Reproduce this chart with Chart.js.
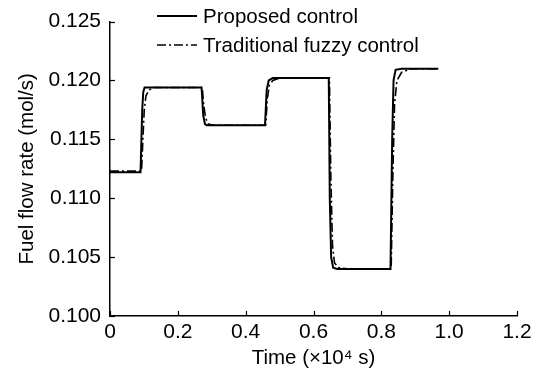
<!DOCTYPE html>
<html>
<head>
<meta charset="utf-8">
<script src="https://cdn.jsdelivr.net/npm/chart.js@4/dist/chart.umd.min.js"></script>
<style>
  html, body { margin: 0; padding: 0; background: #fff; }
  #wrap { width: 540px; height: 371px; position: relative; }
</style>
</head>
<body>
<div id="wrap"><canvas id="flowChart"></canvas></div>
<script>
// Time in units of 10^4 s, flow in mol/s
const timeProposed = [0, 0.09, 0.095, 0.098, 0.102, 0.27, 0.275, 0.28, 0.285, 0.457, 0.462, 0.468, 0.48, 0.645, 0.648, 0.652, 0.658, 0.67, 0.827, 0.832, 0.836, 0.842, 0.86, 0.968];
const flowProposed = [0.1122, 0.1122, 0.1175, 0.1190, 0.1194, 0.1194, 0.1170, 0.1163, 0.1162, 0.1162, 0.1192, 0.1200, 0.1202, 0.1202, 0.1100, 0.1050, 0.1041, 0.1040, 0.1040, 0.1150, 0.1200, 0.1209, 0.1210, 0.1210];

const timeFuzzy = [0, 0.093, 0.097, 0.101, 0.106, 0.115, 0.13, 0.272, 0.276, 0.282, 0.29, 0.305, 0.459, 0.464, 0.47, 0.48, 0.50, 0.647, 0.651, 0.656, 0.662, 0.675, 0.70, 0.829, 0.834, 0.839, 0.846, 0.86, 0.89, 0.968];
const flowFuzzy = [0.1123, 0.1123, 0.1150, 0.1175, 0.1187, 0.1192, 0.1194, 0.1194, 0.1180, 0.1168, 0.1163, 0.1162, 0.1162, 0.1185, 0.1196, 0.1200, 0.1202, 0.1202, 0.1120, 0.1060, 0.1045, 0.1041, 0.1040, 0.1040, 0.1120, 0.1180, 0.1200, 0.1207, 0.1210, 0.1210];

const seriesNames = ['Proposed control', 'Traditional fuzzy control'];
const xTickLabels = ['0', '0.2', '0.4', '0.6', '0.8', '1.0', '1.2'];
const yTickLabels = ['0.100', '0.105', '0.110', '0.115', '0.120', '0.125'];

const FONT = '"Liberation Sans", Arial, sans-serif';

const toPoints = (xs, ys) => xs.map((x, i) => ({ x: x, y: ys[i] }));

// inward tick marks + legend drawn over the plot
const axisExtras = {
    id: 'axisExtras',
    afterDraw(chart) {
        const ctx = chart.ctx;
        const xs = chart.scales.x, ys = chart.scales.y;
        const area = chart.chartArea;
        ctx.save();
        ctx.strokeStyle = '#000';
        ctx.lineWidth = 1.2;
        xs.ticks.forEach(t => {
            const px = Math.round(xs.getPixelForValue(t.value)) + 0.5;
            ctx.beginPath();
            ctx.moveTo(px, area.bottom);
            ctx.lineTo(px, area.bottom - 5);
            ctx.stroke();
        });
        ys.ticks.forEach(t => {
            const py = Math.round(ys.getPixelForValue(t.value)) + 0.5;
            ctx.beginPath();
            ctx.moveTo(area.left, py);
            ctx.lineTo(area.left + 5, py);
            ctx.stroke();
        });

        // legend
        ctx.font = '20.5px ' + FONT;
        ctx.textBaseline = 'middle';
        ctx.fillStyle = '#000';
        chart.data.datasets.forEach((ds, i) => {
            const y = 16 + i * 29;
            ctx.lineWidth = ds.borderWidth;
            ctx.setLineDash(ds.borderDash || []);
            ctx.beginPath();
            ctx.moveTo(157, y);
            ctx.lineTo(197, y);
            ctx.stroke();
            ctx.setLineDash([]);
            ctx.fillText(ds.label, 203, y + 1);
        });
        ctx.restore();
    }
};

new Chart(document.getElementById('flowChart'), {
    type: 'line',
    data: {
        datasets: [
            {
                label: seriesNames[0],
                data: toPoints(timeProposed, flowProposed),
                borderColor: '#000',
                borderWidth: 2,
                pointRadius: 0,
                tension: 0
            },
            {
                label: seriesNames[1],
                data: toPoints(timeFuzzy, flowFuzzy),
                borderColor: '#000',
                borderWidth: 1.6,
                borderDash: [9, 3, 2, 3],
                pointRadius: 0,
                tension: 0
            }
        ]
    },
    options: {
        responsive: true,
        maintainAspectRatio: false,
        animation: false,
        layout: { padding: { top: 21, right: 23, left: 0, bottom: 0 } },
        plugins: {
            legend: { display: false },
            tooltip: { enabled: false }
        },
        scales: {
            x: {
                type: 'linear',
                min: 0,
                max: 1.2,
                afterFit: s => { s.height = 55; },
                ticks: {
                    stepSize: 0.2,
                    color: '#000',
                    padding: 4,
                    maxRotation: 0,
                    font: { size: 21, family: FONT },
                    callback: (v, i) => xTickLabels[i]
                },
                grid: { display: false, drawTicks: false },
                border: { display: true, color: '#000', width: 1.5 },
                title: {
                    display: true,
                    text: 'Time (×10⁴ s)',
                    color: '#000',
                    padding: { top: 0, bottom: 0 },
                    font: { size: 20.5, family: FONT }
                }
            },
            y: {
                min: 0.1,
                max: 0.125,
                afterFit: s => { s.width = 110; },
                ticks: {
                    stepSize: 0.005,
                    color: '#000',
                    padding: 9,
                    font: { size: 21, family: FONT },
                    callback: (v, i) => yTickLabels[i]
                },
                grid: { display: false, drawTicks: false },
                border: { display: true, color: '#000', width: 1.5 },
                title: {
                    display: true,
                    text: 'Fuel flow rate (mol/s)',
                    color: '#000',
                    padding: { top: 15, bottom: 4 },
                    font: { size: 20.5, family: FONT }
                }
            }
        }
    },
    plugins: [axisExtras]
});
</script>
</body>
</html>
